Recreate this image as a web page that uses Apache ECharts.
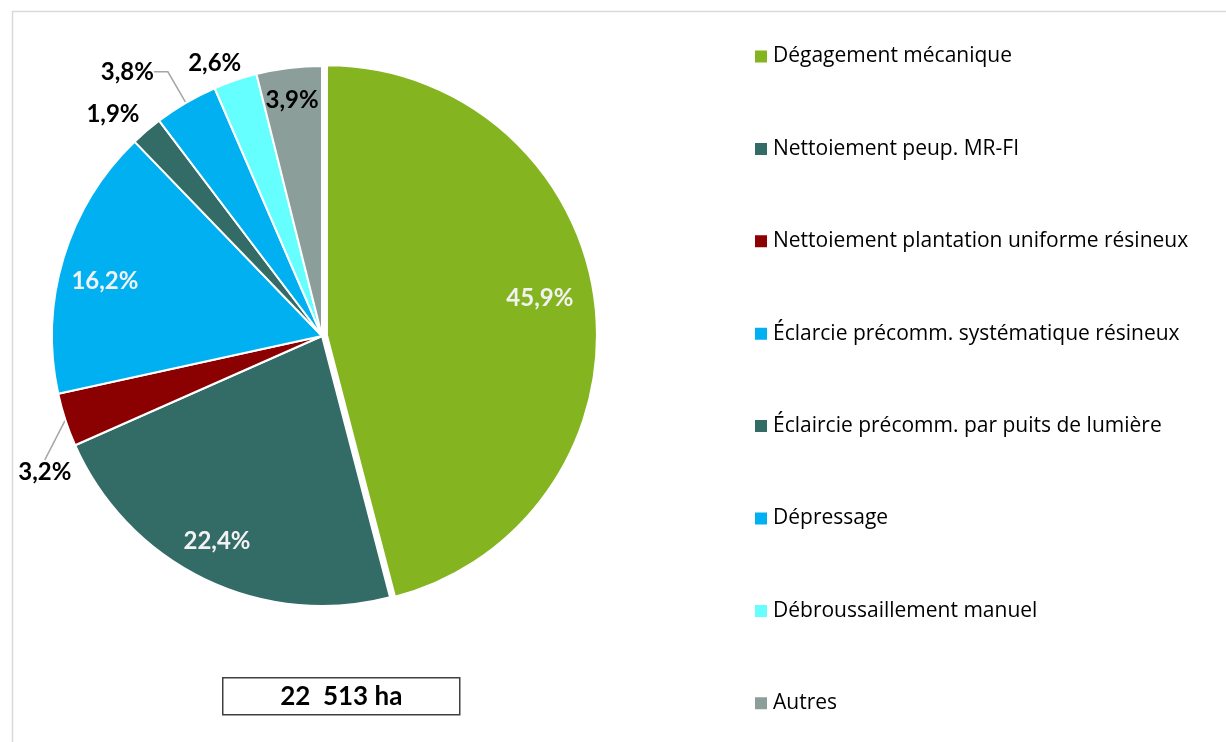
<!DOCTYPE html>
<html lang="fr">
<head>
    <meta charset="UTF-8">
    <title>Répartition des superficies</title>
    <script src="https://cdn.jsdelivr.net/npm/echarts@6/dist/echarts.min.js"></script>
    <style>
        body { margin: 0; background: #fff; }
        #chart { width: 1226px; height: 742px; }
    </style>
</head>
<body>
<div id="chart"></div>
<script>
    // données
    var categories = [
        'Dégagement mécanique',
        'Nettoiement peup. MR-FI',
        'Nettoiement plantation uniforme résineux',
        'Éclarcie précomm. systématique résineux',
        'Éclaircie précomm. par puits de lumière',
        'Dépressage',
        'Débroussaillement manuel',
        'Autres'
    ];
    var shares = [45.9, 22.4, 3.2, 16.2, 1.9, 3.8, 2.6, 3.9];
    var totalText = '22  513 ha';

    // styles
    var colors = ['#84B521', '#336B66', '#8B0000', '#00B0F0', '#336B66', '#00B0F0', '#66FFFF', '#8C9E9A'];
    var inside = [true, true, false, true, false, false, false, true];
    var labelColor = ['#F2F2F2', '#F2F2F2', '#000', '#F2F2F2', '#000', '#000', '#000', '#000'];
    var showLine = [false, false, true, false, false, true, false, false];
    var lineLen2 = [0, 0, 0, 0, 0, 14, 0, 0];
    var shift = [[76, -20], [-45, 81], [11, 52], [-85, -15], [-2, -17], [-13, -31], [11, -17], [-13, -99]];

    var pieData = [];
    for (var i = 0; i < categories.length; i++) {
        pieData.push({
            name: categories[i],
            value: shares[i],
            selected: i === 0,
            itemStyle: {color: colors[i]},
            label: {
                position: inside[i] ? 'inside' : 'outside',
                color: labelColor[i]
            },
            labelLine: {show: showLine[i], length: 0, length2: lineLen2[i]}
        });
    }

    var font = 'Lato, "Noto Sans", sans-serif';
    var ct = echarts.init(document.getElementById('chart'));
    var option = {
        animation: false,
        backgroundColor: '#fff',
        legend: {
            orient: 'vertical',
            left: 748,
            top: 41,
            itemWidth: 14,
            itemHeight: 14,
            itemGap: 71.4,
            icon: 'rect',
            selectedMode: false,
            data: categories,
            textStyle: {fontFamily: '"Open Sans", sans-serif', fontSize: 21, lineHeight: 20, color: '#000'}
        },
        graphic: [
            {
                type: 'rect', left: 10, top: 9, silent: true,
                shape: {width: 1240, height: 760},
                style: {fill: 'none', stroke: '#D9D9D9', lineWidth: 1.5}
            },
            {
                type: 'group', left: 222, top: 677,
                children: [
                    {type: 'rect', shape: {width: 237, height: 37},
                        style: {fill: '#fff', stroke: '#404040', lineWidth: 1.5}},
                    {type: 'text', x: 118.5, y: 19,
                        style: {text: totalText, font: 'bold 26px ' + font, fill: '#000',
                            align: 'center', verticalAlign: 'middle'}}
                ]
            }
        ],
        series: [
            {
                name: 'Superficie',
                type: 'pie',
                center: [322, 336],
                radius: 270,
                startAngle: 90,
                clockwise: true,
                selectedMode: 'single',
                selectedOffset: 5,
                avoidLabelOverlap: false,
                data: pieData,
                itemStyle: {borderColor: '#fff', borderWidth: 2},
                label: {
                    fontFamily: font,
                    fontSize: 24,
                    fontWeight: 'bold',
                    formatter: function (p) {
                        return p.value.toFixed(1).replace('.', ',') + '%';
                    }
                },
                labelLine: {
                    lineStyle: {color: '#A6A6A6', width: 1.5}
                },
                labelLayout: function (p) {
                    var s = shift[p.dataIndex];
                    if (inside[p.dataIndex]) {
                        return {dx: s[0], dy: s[1]};
                    }
                    // outside labels: move by absolute x/y so the leader line is redrawn
                    var r = p.labelRect;
                    return {
                        x: r.x + r.width / 2 + s[0],
                        y: r.y + r.height / 2 + s[1],
                        align: 'center',
                        verticalAlign: 'middle'
                    };
                },
                emphasis: {disabled: true}
            }
        ]
    };
    ct.setOption(option);
</script>
</body>
</html>
